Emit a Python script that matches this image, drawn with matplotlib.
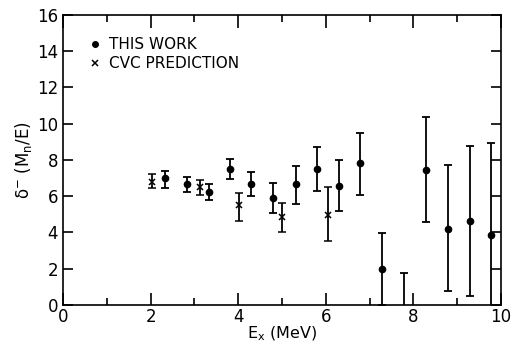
import matplotlib
matplotlib.use("Agg")
import matplotlib.pyplot as plt
from matplotlib.ticker import MultipleLocator

# THIS WORK
work_x = [2.32, 2.82, 3.33, 3.82, 4.30, 4.79, 5.32, 5.80, 6.31, 6.79, 7.28, 7.78, 8.29, 8.79, 9.29, 9.77]
work_y = [6.98, 6.70, 6.24, 7.48, 6.70, 5.92, 6.69, 7.52, 6.58, 7.86, 1.96, -0.40, 7.45, 4.19, 4.65, 3.87]
work_lo = [6.48, 6.24, 5.77, 6.94, 6.02, 5.07, 5.59, 6.30, 5.16, 6.09, 0.00, -2.00, 4.60, 0.78, 0.50, -1.00]
work_hi = [7.39, 7.08, 6.67, 8.06, 7.36, 6.74, 7.67, 8.72, 8.00, 9.50, 3.95, 1.79, 10.39, 7.73, 8.79, 8.94]

# CVC PREDICTION
cvc_x = [2.04, 3.13, 4.02, 5.01, 6.04]
cvc_y = [6.80, 6.52, 5.49, 4.84, 4.97]
cvc_lo = [6.46, 6.05, 4.65, 4.00, 3.54]
cvc_hi = [7.20, 6.89, 6.20, 5.62, 6.52]

x_ticks = [0, 2, 4, 6, 8, 10]
y_ticks = [0, 2, 4, 6, 8, 10, 12, 14, 16]

plt.rcParams['font.family'] = ['DejaVu Sans']

fig = plt.figure(figsize=(5.11, 3.47), dpi=100)
ax = fig.add_axes([0.1233, 0.121, 0.857, 0.836])

ax.errorbar(work_x, work_y,
            yerr=[[y - l for y, l in zip(work_y, work_lo)], [h - y for y, h in zip(work_y, work_hi)]],
            fmt='o', color='black', ms=4.5, elinewidth=1.3, capsize=3.2, capthick=1.3,
            label='THIS WORK', clip_on=True)
ax.errorbar(cvc_x, cvc_y,
            yerr=[[y - l for y, l in zip(cvc_y, cvc_lo)], [h - y for y, h in zip(cvc_y, cvc_hi)]],
            fmt='x', color='black', ms=5, mew=1.1, elinewidth=1.3, capsize=3.2, capthick=1.3,
            label='CVC PREDICTION')

ax.set_xlim(0, 10)
ax.set_ylim(0, 16)
ax.set_xticks(x_ticks)
ax.set_yticks(y_ticks)
ax.xaxis.set_minor_locator(MultipleLocator(1))
ax.tick_params(which='both', direction='in', top=True, right=True, width=1.2, labelsize=12)
ax.tick_params(which='major', length=9)
ax.tick_params(which='minor', length=5)
ax.tick_params(axis='y', which='major', length=7)
ax.tick_params(axis='x', pad=2)
for s in ax.spines.values():
    s.set_linewidth(1.2)

ax.set_xlabel(r'E$_\mathregular{x}$ (MeV)', fontsize=11.5, labelpad=-1)
ax.set_ylabel(r'δ$^{\mathregular{-}}$ (M$_\mathregular{n}$/E)', fontsize=12, labelpad=2)

h, l = ax.get_legend_handles_labels()
leg = ax.legend([hh[0] for hh in h], l, loc='upper left', frameon=False, fontsize=11,
                handlelength=0.6, handletextpad=0.6, borderaxespad=0.4,
                bbox_to_anchor=(0.035, 0.965), labelspacing=0.25)
for hh in leg.legend_handles:
    hh.set_markersize(4)

fig.savefig('out.png', dpi=100)
